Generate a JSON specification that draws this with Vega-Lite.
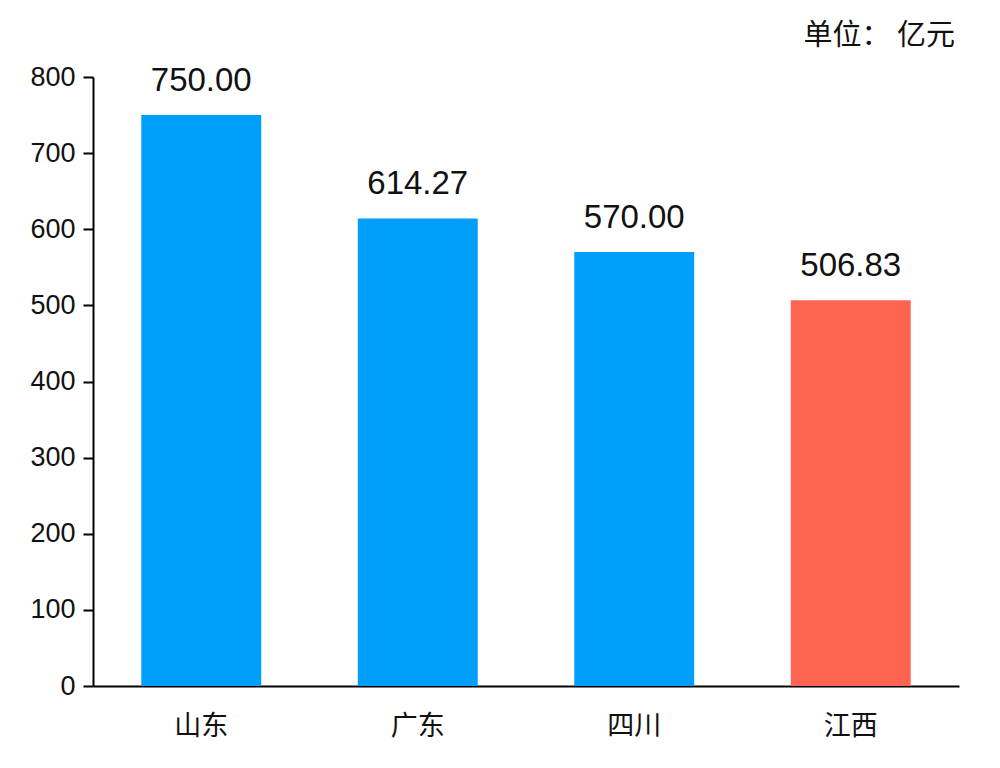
{
  "$schema": "https://vega.github.io/schema/vega-lite/v6.json",
  "autosize": {"type": "none"},
  "padding": {"left": 93, "top": 77, "right": 41, "bottom": 82},
  "width": 866,
  "height": 609,
  "background": "white",
  "title": {
    "text": "单位： 亿元",
    "anchor": "end",
    "frame": "group",
    "orient": "top",
    "font": "Noto Sans CJK SC",
    "fontSize": 29,
    "fontWeight": "normal",
    "color": "#111111",
    "offset": 12,
    "dx": -4
  },
  "data": {
    "values": [
      {"省份": "山东", "金额": 750.00},
      {"省份": "广东", "金额": 614.27},
      {"省份": "四川", "金额": 570.00},
      {"省份": "江西", "金额": 506.83}
    ]
  },
  "encoding": {
    "x": {
      "field": "省份",
      "type": "nominal",
      "sort": null,
      "scale": {"paddingInner": 0.446, "paddingOuter": 0.223},
      "axis": {
        "title": null,
        "labelAngle": 0,
        "labelFont": "Noto Sans CJK SC",
        "labelFontSize": 27,
        "labelColor": "#111111",
        "labelPadding": 27,
        "ticks": false,
        "domainColor": "#000000",
        "domainWidth": 2
      }
    },
    "y": {
      "field": "金额",
      "type": "quantitative",
      "scale": {"domain": [0, 800], "nice": false},
      "axis": {
        "title": null,
        "values": [0, 100, 200, 300, 400, 500, 600, 700, 800],
        "grid": false,
        "labelFont": "Liberation Sans",
        "labelFontSize": 27,
        "labelColor": "#111111",
        "labelPadding": 8,
        "tickSize": 10,
        "tickWidth": 2,
        "tickColor": "#000000",
        "domainColor": "#000000",
        "domainWidth": 2
      }
    }
  },
  "layer": [
    {
      "mark": {"type": "bar"},
      "encoding": {
        "color": {
          "condition": {"test": "datum['省份'] === '江西'", "value": "#FF6450"},
          "value": "#00A0FA"
        }
      }
    },
    {
      "mark": {
        "type": "text",
        "font": "Liberation Sans",
        "fontSize": 33,
        "color": "#111111",
        "baseline": "alphabetic",
        "dy": -24
      },
      "encoding": {
        "text": {"field": "金额", "type": "quantitative", "format": ".2f"}
      }
    }
  ],
  "config": {"view": {"stroke": null}}
}
